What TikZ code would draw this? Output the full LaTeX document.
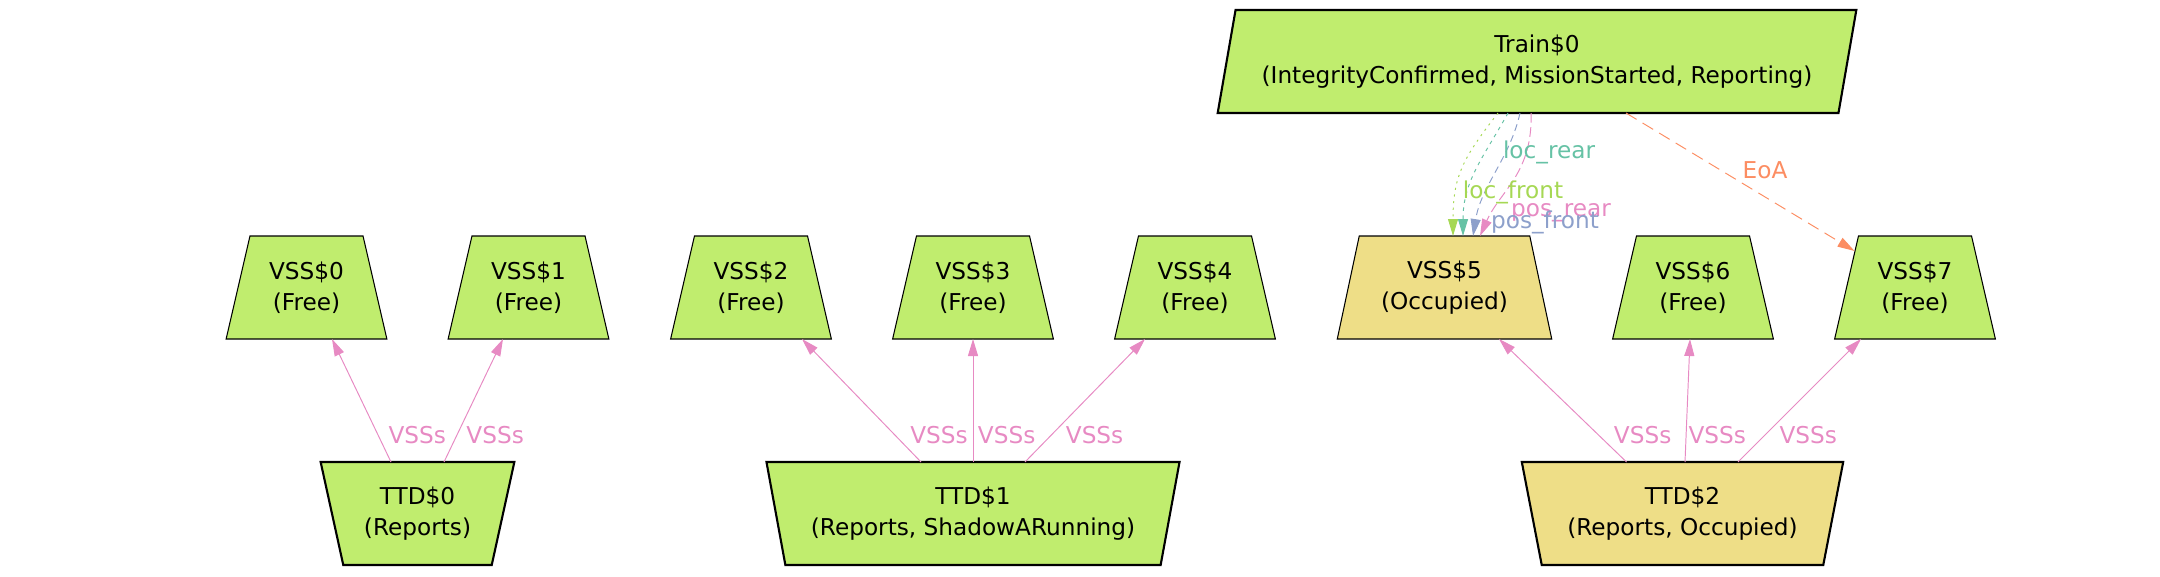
\documentclass[tikz,border=0pt]{standalone}
\usepackage{fontspec}
\setmainfont{DejaVu Sans}
\usetikzlibrary{arrows.meta, shapes.geometric, calc}
\definecolor{nodegreen}{HTML}{C0ED6E}
\definecolor{nodeyellow}{HTML}{EEDE87}
\definecolor{relpink}{HTML}{E78AC3}
\definecolor{relteal}{HTML}{66C2A5}
\definecolor{relgreen}{HTML}{A6D854}
\definecolor{relblue}{HTML}{8DA0CB}
\definecolor{relorange}{HTML}{FC8D62}
\tikzset{
  atom/.style     = {trapezium, trapezium stretches=true, draw=black, fill=nodegreen,
                     align=center, font=\fontsize{13.2}{17.6}\selectfont,
                     minimum height=2.06cm, inner sep=0pt},
  vss/.style      = {atom, line width=0.6pt, trapezium left angle=73,
                     trapezium right angle=73, minimum width=3.22cm},
  ttd/.style      = {atom, line width=1.2pt, shape border rotate=180,
                     trapezium left angle=73, trapezium right angle=73},
  train/.style    = {atom, line width=1.2pt, trapezium left angle=73,
                     trapezium right angle=107},
  occupied/.style = {fill=nodeyellow},
  rel/.style      = {-{Triangle[length=0.34cm, width=0.2cm]}, line width=0.55pt},
  lbl/.style      = {font=\fontsize{13.2}{17.6}\selectfont, inner sep=0.08cm},
}
\begin{document}
\begin{tikzpicture}[x=0.02cm, y=-0.02cm]
  \useasboundingbox (0,0) rectangle (2160,576);
  % sections
  \foreach \i/\x in {0/306.5, 1/528.5, 2/751, 3/973, 4/1195, 6/1693, 7/1915} {
    \node[vss] (vss\i) at (\x,287.5) {VSS\$\i\\(Free)};
  }
  \node[vss, occupied, minimum width=4.3cm] (vss5) at (1444.5,287.5) {VSS\$5\\(Occupied)};
  % track sections
  \node[ttd, minimum width=3.9cm] (ttd0) at (417.5,513.5) {TTD\$0\\(Reports)};
  \node[ttd, minimum width=8.28cm] (ttd1) at (973,513.5) {TTD\$1\\(Reports, ShadowARunning)};
  \node[ttd, occupied, minimum width=6.44cm] (ttd2) at (1682.5,513.5) {TTD\$2\\(Reports, Occupied)};
  % train
  \node[train, minimum width=12.8cm] (train0) at (1537,61.5)
    {Train\$0\\(IntegrityConfirmed, MissionStarted, Reporting)};
  % VSSs relation
  \foreach \t/\v/\a/\b/\g in {0/0/-26.5/25.5/6, 0/1/26.5/-25.5/5, 1/2/-52/51/11,
                              1/3/0/0/0.5, 1/4/52/-50/10, 2/5/-56/54.5/11,
                              2/6/2.5/-3/-2, 2/7/55.5/-54/10} {
    \draw[rel, relpink] ($(ttd\t)+(\a,-51.5)$) -- ($(vss\v)+(\b,51.5)$)
      node[lbl, pos=0.22, anchor=west, xshift=\g*0.02cm] {VSSs};
  }
  % train positions
  \draw[rel, relgreen, dash pattern=on 1.2pt off 2.6pt]
    ($(train0)+(-39,51.5)$) .. controls +(-35,45) and +(0,-60) .. ($(vss5)+(8.5,-51.5)$);
  \draw[rel, relteal, dash pattern=on 2pt off 2.6pt]
    ($(train0)+(-29,51.5)$) .. controls +(-25,45) and +(0,-55) .. ($(vss5)+(18.5,-51.5)$);
  \draw[rel, relblue, dash pattern=on 4pt off 2.6pt]
    ($(train0)+(-17,51.5)$) .. controls +(-10,45) and +(8,-50) .. ($(vss5)+(28.5,-51.5)$);
  \draw[rel, relpink, dash pattern=on 5.5pt off 2.6pt]
    ($(train0)+(-6,51.5)$) .. controls +(2,60) and +(20,-45) .. ($(vss5)+(35.5,-51.5)$);
  \draw[rel, relorange, dash pattern=on 7pt off 4pt]
    ($(train0)+(89,51.5)$) -- (vss7);
  \node[lbl, relteal] (locrear) at (1549,152) {loc\_rear};
  \node[lbl, relgreen] (locfront) at (1513,192) {loc\_front};
  \node[lbl, relpink] (posrear) at (1561,213) {pos\_rear};
  \node[lbl, relblue] (posfront) at (1545,222) {pos\_front};
  \node[lbl, relorange] (eoa) at (1765,170) {EoA};
\end{tikzpicture}
\end{document}
